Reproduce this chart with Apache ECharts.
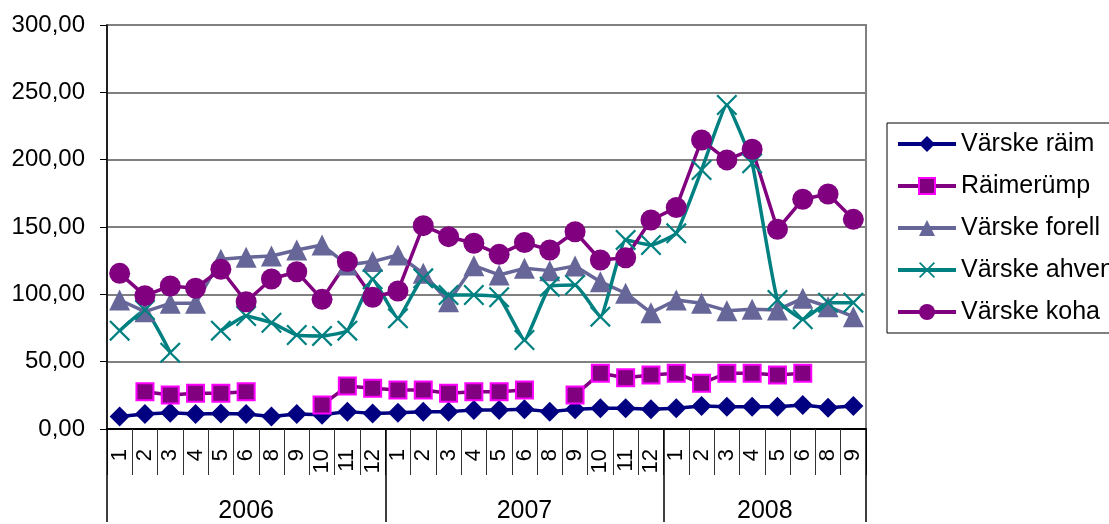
<!DOCTYPE html>
<html>
<head>
<meta charset="utf-8">
<script src="https://cdn.jsdelivr.net/npm/echarts@6/dist/echarts.min.js"></script>
<style>
html,body{margin:0;padding:0;background:#fff;}
#chart{width:1109px;height:524px;}
</style>
</head>
<body>
<div id="chart"></div>
<script>
const months2006 = ['1','2','3','4','5','6','8','9','10','11','12'];
const months2007 = ['1','2','3','4','5','6','8','9','10','11','12'];
const months2008 = ['1','2','3','4','5','6','8','9'];
const years = ['2006','2007','2008'];
const yTicks = [0, 50, 100, 150, 200, 250, 300];

const seriesNames = ['Värske räim','Räimerümp','Värske forell','Värske ahven','Värske koha'];

const raim = [9.2, 11.1, 12.1, 11.1, 11.6, 11.1, 9.2, 11.1, 10.5, 12.9, 11.6, 12.1, 12.9, 12.9, 14.1, 14.1, 14.6, 12.9, 14.6, 15.4, 15.4, 14.6, 15.4, 17.1, 16.6, 16.6, 16.6, 17.8, 15.8, 17.1];
const raimerump = [null, 27.7, 25.2, 26.5, 26.5, 27.7, null, null, 17.8, 31.9, 30.2, 29, 29, 26.5, 27.7, 27.7, 29, null, 25.2, 41.4, 38.1, 40.1, 41.4, 33.9, 41.4, 41.4, 40.1, 41.4, null, null];
const forell = [95.8, 87.1, 93.3, 93.3, 126, 127.5, 128.5, 132.9, 136.6, 121.8, 124.3, 129.2, 115.6, 94.5, 121.3, 114.4, 119.3, 117.6, 121, 109.4, 100.8, 86.4, 95.8, 93.3, 87.9, 88.9, 88.4, 97, 90.8, 83.4];
const ahven = [73, 88.4, 56.7, null, 73, 83.9, 78.9, 69.8, 69.1, 73, 111.2, 82.2, 111.9, 99.5, 99.5, 97.8, 66.1, 105.7, 106.9, 83.4, 140.4, 136.6, 145.3, 192.3, 240.6, 197.3, 95.8, 81.5, 93.8, 93.8];
const koha = [115.6, 99, 106.2, 104.5, 118.6, 94.5, 111.4, 116.8, 96.3, 124.3, 97.8, 102.5, 151, 142.8, 137.9, 129.7, 138.4, 132.9, 146.5, 125.5, 127.2, 155.2, 164.4, 214.6, 199.8, 207.7, 148.3, 170.6, 174.5, 155.7];

const monthGroups = [months2006, months2007, months2008];
const categories = [].concat(...monthGroups);
const boundaries = [0];
monthGroups.forEach(g => boundaries.push(boundaries[boundaries.length - 1] + g.length));
const yearCenters = years.map((y, i) => (boundaries[i] + boundaries[i + 1]) / 2);

const FONT = '"Liberation Sans", Arial, sans-serif';
const xPath = 'path://M0,1.5L1.5,0L10,8.5L18.5,0L20,1.5L11.5,10L20,18.5L18.5,20L10,11.5L1.5,20L0,18.5L8.5,10Z';

const chart = echarts.init(document.getElementById('chart'), null, {renderer: 'canvas'});
chart.setOption({
  animation: false,
  backgroundColor: '#fff',
  textStyle: {fontFamily: FONT},
  grid: {left: 107, right: 243, top: 25, bottom: 94, show: true, borderColor: '#808080', borderWidth: 2, containLabel: false},
  legend: {
    orient: 'vertical', left: 887, top: 123,
    padding: [8, 9, 8, 9],
    borderColor: '#000', borderWidth: 1,
    itemWidth: 58, itemHeight: 20, itemGap: 16,
    lineStyle: {width: 4},
    textStyle: {fontSize: 25, color: '#000', fontFamily: FONT, lineHeight: 26},
    data: seriesNames
  },
  xAxis: [{
    type: 'category',
    data: categories,
    boundaryGap: true,
    axisLine: {show: true, onZero: false, lineStyle: {color: '#000', width: 2}},
    axisTick: {show: true, interval: 0, length: 46, lineStyle: {color: '#333', width: 1}},
    axisLabel: {interval: 0, rotate: 90, margin: 20, fontSize: 22, color: '#000', fontFamily: FONT},
    splitLine: {show: false}
  }, {
    type: 'value',
    position: 'bottom',
    offset: 0,
    min: 0, max: boundaries[boundaries.length - 1],
    axisLine: {show: false},
    axisTick: {show: true, customValues: boundaries, length: 93, lineStyle: {color: '#000', width: 1.5}},
    axisLabel: {
      show: true, customValues: yearCenters, margin: 70, fontSize: 25, color: '#000', fontFamily: FONT,
      formatter: v => { const i = yearCenters.indexOf(v); return i >= 0 ? years[i] : ''; }
    },
    splitLine: {show: false}
  }],
  yAxis: {
    type: 'value',
    min: yTicks[0], max: yTicks[yTicks.length - 1], interval: 50,
    axisLine: {show: true, lineStyle: {color: '#000', width: 1.5}},
    axisTick: {show: true, length: 7, lineStyle: {color: '#000', width: 1}},
    axisLabel: {margin: 22, fontSize: 24, color: '#000', fontFamily: FONT,
      formatter: v => v.toFixed(2).replace('.', ',')},
    splitLine: {show: true, lineStyle: {color: '#808080', width: 2}}
  },
  series: [{
    name: seriesNames[0], type: 'line', data: raim,
    symbol: 'diamond', symbolSize: 20,
    lineStyle: {color: '#000080', width: 3.5},
    itemStyle: {color: '#000080'}
  }, {
    name: seriesNames[1], type: 'line', data: raimerump,
    symbol: 'rect', symbolSize: 17,
    lineStyle: {color: '#800080', width: 3.5},
    itemStyle: {color: '#800080', borderColor: '#FF00FF', borderWidth: 2}
  }, {
    name: seriesNames[2], type: 'line', data: forell,
    symbol: 'triangle', symbolSize: 21,
    lineStyle: {color: '#666699', width: 3.5},
    itemStyle: {color: '#666699'}
  }, {
    name: seriesNames[3], type: 'line', data: ahven,
    symbol: xPath, symbolSize: 21, smooth: 0.12,
    lineStyle: {color: '#008080', width: 3.5},
    itemStyle: {color: '#008080'}
  }, {
    name: seriesNames[4], type: 'line', data: koha,
    symbol: 'circle', symbolSize: 21,
    lineStyle: {color: '#800080', width: 3.5},
    itemStyle: {color: '#800080'}
  }]
});
</script>
</body>
</html>
